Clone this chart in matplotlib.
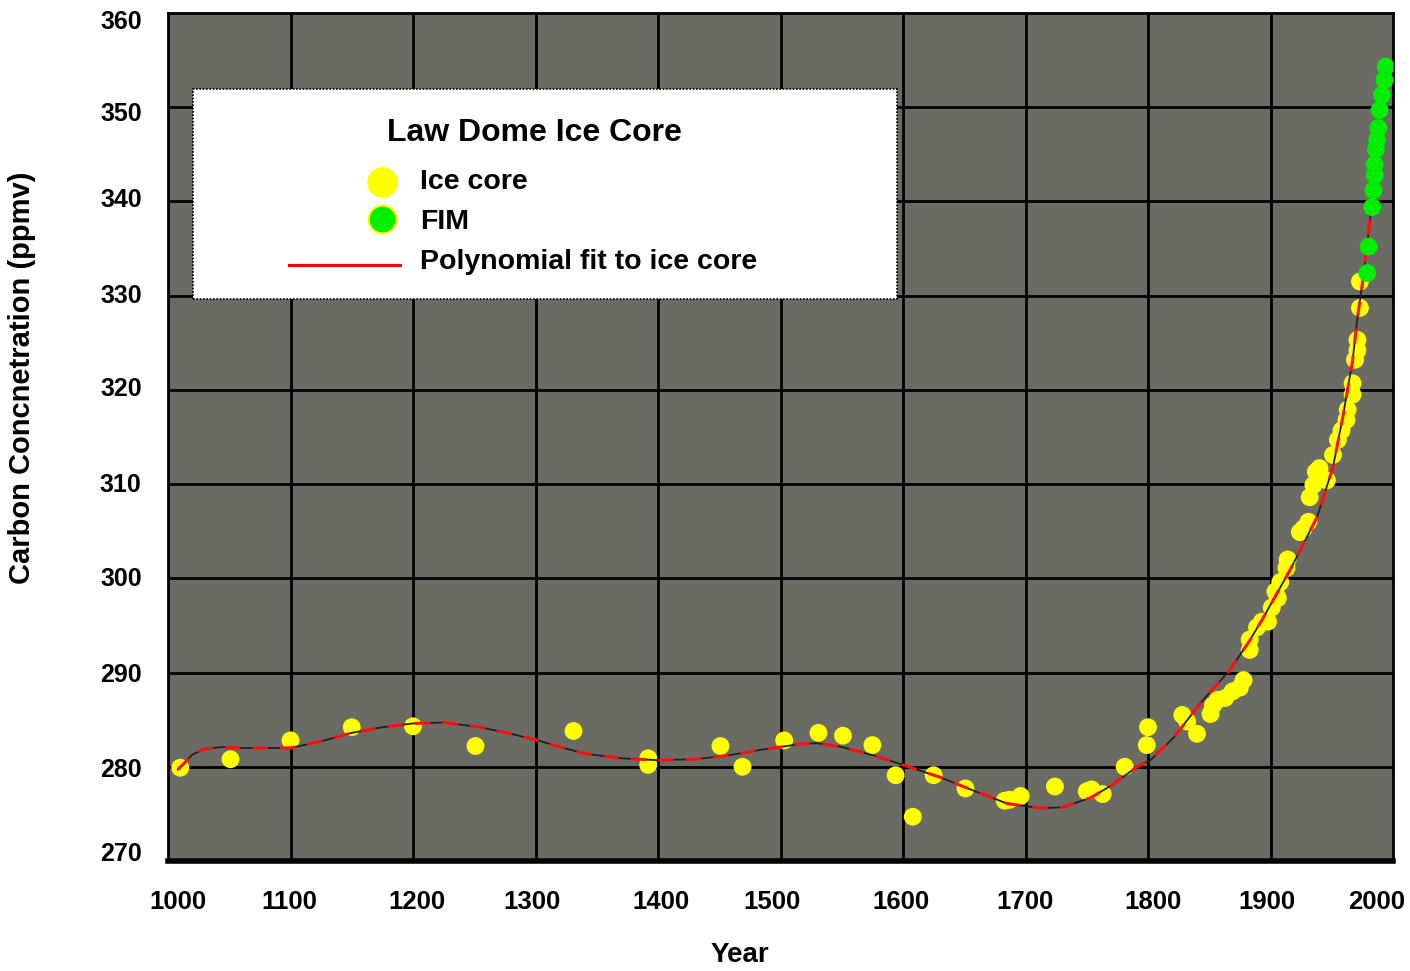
import matplotlib
matplotlib.use("Agg")
import matplotlib.pyplot as plt
from matplotlib.patches import Rectangle
from matplotlib.lines import Line2D

plt.rcParams['font.family'] = ['Liberation Sans', 'DejaVu Sans']
plt.rcParams['font.weight'] = 'bold'

# ---------------- data ----------------
ice_years = [1010, 1051, 1100, 1150, 1200, 1251, 1331, 1392, 1392, 1451, 1469, 1503,
             1531, 1551, 1575, 1594, 1608, 1625, 1651, 1683, 1687, 1696, 1724, 1750,
             1754, 1763, 1781, 1799, 1800, 1828, 1832, 1840, 1851, 1853, 1857, 1863,
             1869, 1875, 1878, 1883, 1883, 1889, 1893, 1898, 1901, 1904, 1906, 1908,
             1913, 1914, 1924, 1927, 1931, 1932, 1935, 1937, 1940, 1946, 1951, 1955,
             1958, 1962, 1963, 1967, 1967, 1969, 1971, 1971, 1973, 1973]
ice_ppm = [279.9, 280.8, 282.8, 284.2, 284.3, 282.2, 283.8, 280.9, 280.2, 282.2, 280.0, 282.8,
           283.6, 283.3, 282.3, 279.1, 274.7, 279.1, 277.7, 276.4, 276.5, 276.9, 277.9, 277.4,
           277.6, 277.1, 280.0, 282.3, 284.2, 285.5, 284.8, 283.5, 285.6, 286.5, 287.1, 287.3,
           288.0, 288.4, 289.2, 292.4, 293.5, 294.8, 295.4, 295.4, 296.9, 298.6, 297.9, 299.6,
           301.1, 302.0, 304.9, 305.3, 306.0, 308.6, 309.9, 311.3, 311.7, 310.4, 313.1, 314.7,
           315.7, 316.8, 317.9, 319.5, 320.7, 323.2, 324.2, 325.3, 328.7, 331.5]

fim_years = [1979, 1980, 1983, 1984, 1985, 1985, 1986, 1987, 1988, 1989, 1991, 1993, 1994]
fim_ppm = [332.4, 335.2, 339.4, 341.2, 342.8, 343.9, 345.5, 346.5, 347.8, 349.7, 351.3, 352.9, 354.3]

fit_years = [1008, 1020, 1030, 1045, 1060, 1080, 1100, 1125, 1150, 1175, 1200, 1225, 1255,
             1280, 1302, 1320, 1340, 1370, 1400, 1430, 1457, 1484, 1500, 1515, 1530, 1550,
             1576, 1600, 1630, 1657, 1685, 1712, 1730, 1753, 1771, 1791, 1802, 1821, 1843,
             1867, 1883, 1894, 1916, 1938, 1951, 1959, 1967, 1971, 1975, 1980, 1983, 1987]
fit_ppm = [279.7, 281.3, 281.9, 282.1, 282.0, 282.0, 282.0, 282.7, 283.6, 284.2, 284.6, 284.7, 284.2,
           283.5, 282.8, 282.1, 281.4, 280.9, 280.7, 280.8, 281.2, 281.8, 282.1, 282.4, 282.5, 282.1,
           281.2, 280.2, 278.9, 277.5, 276.1, 275.6, 275.7, 276.7, 278.1, 280.0, 280.7, 283.1, 286.8,
           290.3, 293.4, 295.8, 300.9, 306.5, 311.8, 317.1, 323.1, 327.7, 331.3, 336.6, 340.4, 346.5]

x_tick_labels = ['1000', '1100', '1200', '1300', '1400', '1500', '1600', '1700', '1800', '1900', '2000']
y_tick_labels = ['270', '280', '290', '300', '310', '320', '330', '340', '350', '360']
x_grid = [1100, 1200, 1300, 1400, 1500, 1600, 1700, 1800, 1900]
y_grid = [280, 290, 300, 310, 320, 330, 340, 350]

# label positions (slightly offset from gridlines as in the original)
x_label_pos = [1008, 1099, 1203, 1297, 1402, 1493, 1598, 1700, 1804, 1897, 1987]
y_label_pos = [271.0, 279.9, 290.0, 300.2, 310.2, 320.4, 330.2, 340.4, 349.5, 359.3]

# ---------------- figure ----------------
fig = plt.figure(figsize=(14.1, 9.71), dpi=100)
fig.patch.set_facecolor('white')
ax = fig.add_axes([168 / 1410, 1 - 861 / 971, 1225 / 1410, 848 / 971])
ax.set_facecolor('#6b6b66')
ax.set_xlim(1000, 2000)
ax.set_ylim(270, 360)

for g in x_grid:
    ax.axvline(g, color='black', lw=2, zorder=1)
for g in y_grid:
    ax.axhline(g, color='black', lw=2, zorder=1)

for s in ['top', 'left', 'right']:
    ax.spines[s].set_linewidth(2)
    ax.spines[s].set_color('black')
ax.spines['bottom'].set_linewidth(4)
ax.spines['bottom'].set_color('black')

ax.set_xticks(x_label_pos)
ax.set_xticklabels(x_tick_labels, fontsize=18.5, fontweight='bold')
ax.set_yticks(y_label_pos)
ax.set_yticklabels(y_tick_labels, fontsize=18, fontweight='bold')
ax.tick_params(axis='x', length=0, pad=21)
ax.tick_params(axis='y', length=0, pad=19)

# data
ax.scatter(ice_years, ice_ppm, s=165, color='#ffff00', edgecolors='none', zorder=3)
ax.plot(fit_years, fit_ppm, color='#202020', lw=1.3, zorder=4)
ax.plot(fit_years, fit_ppm, color='#ff1010', lw=2.2, dashes=(5, 4), zorder=4)
ax.scatter(fim_years, fim_ppm, s=165, color='#00ee00', edgecolors='none', zorder=5)

fig.text(22 / 1410, 1 - 378 / 971, 'Carbon Concnetration (ppmv)', rotation=90,
         fontsize=21, fontweight='bold', ha='center', va='center')
fig.text(740 / 1410, 1 - 955 / 971, 'Year', fontsize=20, fontweight='bold',
         ha='center', va='center')

# ---------------- legend box ----------------
def fx(px):
    return (px - 168) / 1225

def fy(py):
    return (861 - py) / 848

ax.add_patch(Rectangle((fx(193), fy(299)), fx(897) - fx(193), fy(89) - fy(299),
                       transform=ax.transAxes, facecolor='white', edgecolor='black',
                       linestyle=(0, (1, 1)), lw=1.2, zorder=10, clip_on=False))
ax.text(fx(534), fy(133), 'Law Dome Ice Core', transform=ax.transAxes, fontsize=23,
        fontweight='bold', ha='center', va='center', zorder=11)
ax.add_line(Line2D([fx(382)], [fy(182)], marker='o', markersize=21, color='#ffff00',
                   markeredgecolor='#ffff00', transform=ax.transAxes, zorder=11))
ax.add_line(Line2D([fx(382)], [fy(219)], marker='o', markersize=20, color='#00ee00',
                   markeredgecolor='#ffff00', markeredgewidth=1.5, transform=ax.transAxes, zorder=11))
ax.add_line(Line2D([fx(289), fx(400)], [fy(265), fy(265)], color='#ff0000', lw=2.2,
                   transform=ax.transAxes, zorder=11))
ax.text(fx(420), fy(182), 'Ice core', transform=ax.transAxes, fontsize=20.5,
        fontweight='bold', ha='left', va='center', zorder=11)
ax.text(fx(420), fy(222), 'FIM', transform=ax.transAxes, fontsize=20.5,
        fontweight='bold', ha='left', va='center', zorder=11)
ax.text(fx(420), fy(262), 'Polynomial fit to ice core', transform=ax.transAxes, fontsize=20.5,
        fontweight='bold', ha='left', va='center', zorder=11)

fig.savefig('out.png', dpi=100, facecolor='white')
